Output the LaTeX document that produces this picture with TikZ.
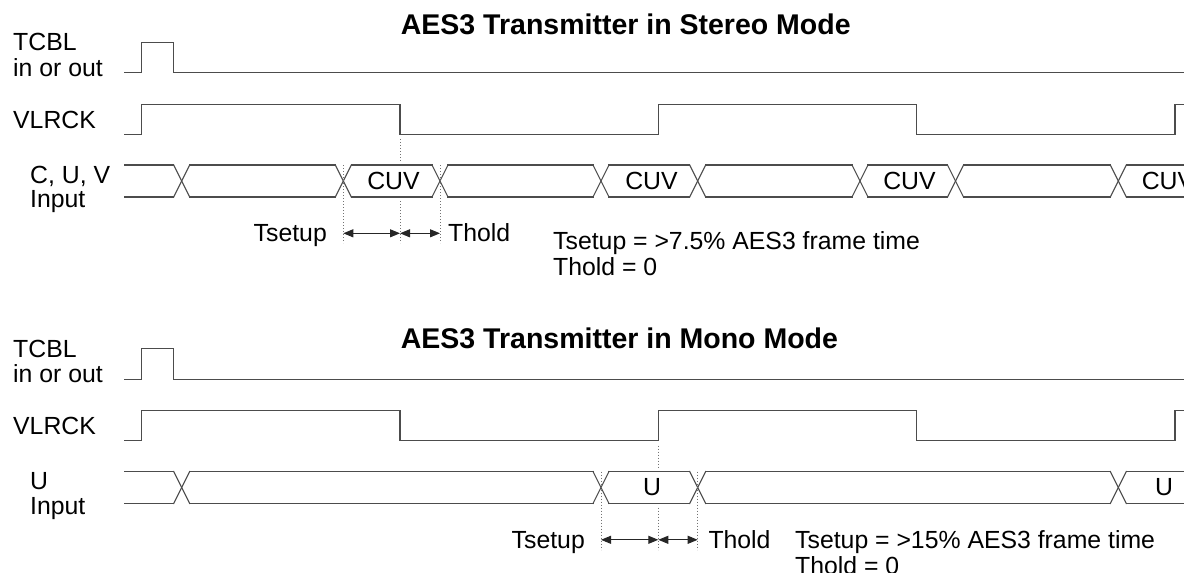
\documentclass[tikz,border=0pt]{standalone}
\usepackage{fontspec}
\setmainfont{Liberation Sans}
\usetikzlibrary{arrows.meta}
\newcommand\labfont{\fontsize{24.8}{28}\selectfont}
\newcommand\ttlfont{\fontsize{28.5}{32}\selectfont\bfseries}
\tikzset{
  sig/.style={draw=black!70, line width=1.1pt, line cap=rect},
  guide/.style={draw=black!55, line width=0.8pt, dash pattern=on 1.2pt off 1.8pt},
  dim/.style={draw=black!85, line width=1pt, {Triangle[length=10pt,width=8pt]}-{Triangle[length=10pt,width=8pt]}},
  lab/.style={anchor=base west, inner sep=0pt, font=\labfont},
  labr/.style={anchor=base east, inner sep=0pt, font=\labfont},
  ttl/.style={anchor=base west, inner sep=0pt, font=\ttlfont},
  win/.style={anchor=center, inner sep=0pt, font=\labfont}
}
\begin{document}
\begin{tikzpicture}[x=1pt, y=-1pt]
\useasboundingbox (0,0) rectangle (1184,573);
% ================= STEREO =================
\node[ttl] (t1) at (400.7,34) {AES3 Transmitter in Stereo Mode};
\node[lab] (l1a) at (13,50.5) {TCBL};
\node[lab] (l1b) at (13,76) {in or out};
\node[lab] (l1c) at (13,128) {VLRCK};
\node[lab] (l1d) at (30,183) {C, U, V};
\node[lab] (l1e) at (30,207.5) {Input};
% TCBL
\draw[sig] (125,72.7) -- (141.7,72.7) -- (141.7,42.3) -- (173.3,42.3) -- (173.3,72.7) -- (1184,72.7);
% VLRCK
\draw[sig] (125,134.3) -- (141.7,134.3) -- (141.7,104.3) -- (400,104.3) -- (400,134.3)
  -- (658.3,134.3) -- (658.3,104.3) -- (916.7,104.3) -- (916.7,134.3) -- (1175,134.3) -- (1175,104.3) -- (1184,104.3);
% bus
\foreach \c in {181.7,343.3,440,601,697.7,860,955.5,1118.3} {
  \draw[sig] ({\c-8},165) -- ({\c+8},197);
  \draw[sig] ({\c-8},197) -- ({\c+8},165);
}
\foreach \a/\b in {125/173.7,189.7/335.3,351.3/432,448/593,609/689.7,705.7/852,868/947.5,963.5/1110.3,1126.3/1184} {
  \draw[sig] (\a,165) -- (\b,165);
  \draw[sig] (\a,197) -- (\b,197);
}
\node[win] (c1) at (393.5,181) {CUV};
\node[win] (c2) at (651.5,181) {CUV};
\node[win] (c3) at (909.5,181) {CUV};
\node[win] (c4) at (1168,181) {CUV};
% guides
\coordinate (s1a) at (400,139); \coordinate (s1b) at (400,161);
\coordinate (s1c) at (400,201); \coordinate (s1d) at (400,243);
\coordinate (s1e) at (343.3,165); \coordinate (s1f) at (343.3,243);
\coordinate (s1g) at (440,165); \coordinate (s1h) at (440,243);
\draw[guide] (s1a) -- (s1b);
\draw[guide] (s1c) -- (s1d);
\draw[guide] (s1e) -- (s1f);
\draw[guide] (s1g) -- (s1h);
\coordinate (a1l) at (343.3,233.3); \coordinate (a1m) at (400,233.3); \coordinate (a1r) at (440,233.3);
\draw[dim] (a1l) -- (a1m);
\draw[dim] (a1m) -- (a1r);
\node[labr] (ts1) at (327,241) {Tsetup};
\node[lab] (th1) at (448,241) {Thold};
\node[lab] (n1a) at (553,249) {Tsetup = >7.5\% AES3 frame time};
\node[lab] (n1b) at (553,275.7) {Thold = 0};
% ================= MONO =================
\node[ttl] (t2) at (400.7,348) {AES3 Transmitter in Mono Mode};
\begin{scope}[yshift=-306.5pt]
\node[lab] (l2a) at (13,50.5) {TCBL};
\node[lab] (l2b) at (13,76) {in or out};
\node[lab] (l2c) at (13,128) {VLRCK};
\node[lab] (l2d) at (30,183) {U};
\node[lab] (l2e) at (30,207.5) {Input};
\draw[sig] (125,72.7) -- (141.7,72.7) -- (141.7,42.3) -- (173.3,42.3) -- (173.3,72.7) -- (1184,72.7);
\draw[sig] (125,134.3) -- (141.7,134.3) -- (141.7,104.3) -- (400,104.3) -- (400,134.3)
  -- (658.3,134.3) -- (658.3,104.3) -- (916.7,104.3) -- (916.7,134.3) -- (1175,134.3) -- (1175,104.3) -- (1184,104.3);
\foreach \c in {181.7,601,697.7,1118.3} {
  \draw[sig] ({\c-8},165) -- ({\c+8},197);
  \draw[sig] ({\c-8},197) -- ({\c+8},165);
}
\foreach \a/\b in {125/173.7,189.7/593,609/689.7,705.7/1110.3,1126.3/1184} {
  \draw[sig] (\a,165) -- (\b,165);
  \draw[sig] (\a,197) -- (\b,197);
}
\node[win] (u1) at (652,181) {U};
\node[win] (u2) at (1164,181) {U};
\coordinate (s2a) at (658.3,139); \coordinate (s2b) at (658.3,161);
\coordinate (s2c) at (658.3,201); \coordinate (s2d) at (658.3,243);
\coordinate (s2e) at (601,165); \coordinate (s2f) at (601,243);
\coordinate (s2g) at (697.7,165); \coordinate (s2h) at (697.7,243);
\draw[guide] (s2a) -- (s2b);
\draw[guide] (s2c) -- (s2d);
\draw[guide] (s2e) -- (s2f);
\draw[guide] (s2g) -- (s2h);
\coordinate (a2l) at (601,233.3); \coordinate (a2m) at (658.3,233.3); \coordinate (a2r) at (697.7,233.3);
\draw[dim] (a2l) -- (a2m);
\draw[dim] (a2m) -- (a2r);
\node[labr] (ts2) at (585,241.5) {Tsetup};
\node[lab] (th2) at (708.3,241.5) {Thold};
\node[lab] (n2a) at (795,241.5) {Tsetup = >15\% AES3 frame time};
\node[lab] (n2b) at (795,267.5) {Thold = 0};
\end{scope}
\end{tikzpicture}
\end{document}
